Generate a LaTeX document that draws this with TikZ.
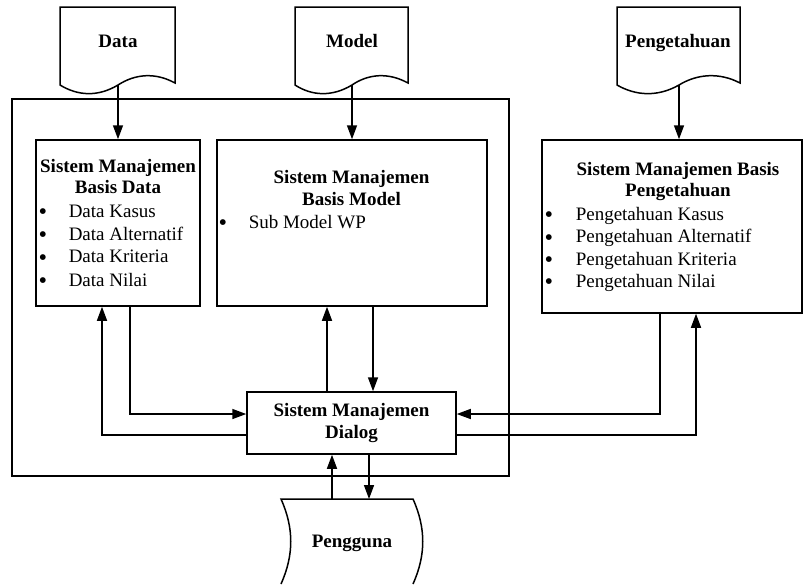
\documentclass[tikz,border=0pt]{standalone}
\usepackage{fontspec}
\setmainfont{Liberation Serif}
\newfontfamily\bulletfont{DejaVu Sans}
\usetikzlibrary{arrows.meta,calc}
\begin{document}
\begin{tikzpicture}[x=1pt,y=-1pt,
  line width=1.5pt,
  box/.style={draw, rectangle, inner sep=0pt, fill=none},
  txt/.style={inner sep=0pt, anchor=base, font=\fontsize{19}{22}\selectfont},
  ttl/.style={txt, font=\fontsize{19}{22}\selectfont\bfseries},
  itm/.style={txt, anchor=base west},
  bul/.style={inner sep=0pt, anchor=center, font=\bulletfont\fontsize{7.5}{8}\selectfont},
  arr/.style={-{Triangle[length=14pt,width=10pt]}},
]
\useasboundingbox (0,0) rectangle (803,584);

% outer frame
\node[box, minimum width=497pt, minimum height=377pt] (outer) at (260.5,287.5) {};

% boxes
\node[box, minimum width=164pt, minimum height=166pt] (b1) at (118,223) {};
\node[box, minimum width=270pt, minimum height=166pt] (b2) at (352,223) {};
\node[box, minimum width=260pt, minimum height=173pt] (b3) at (672,226.5) {};
\node[box, minimum width=209pt, minimum height=62pt] (dlg) at (351.5,423) {};

% document shapes
\draw[shift={(118,0)}] (-58,85) -- (-58,7) -- (57,7) -- (57,83)
  .. controls (37,72) and (17,74) .. (0,85)
  .. controls (-20,97) and (-40,96) .. (-58,85) -- cycle;
\draw[shift={(352,0)}] (-57,85) -- (-57,7) -- (56,7) -- (56,83)
  .. controls (36,72) and (16,74) .. (0,85)
  .. controls (-20,97) and (-40,96) .. (-57,85) -- cycle;
\draw[shift={(679,0)}] (-62,85) -- (-62,7) -- (61,7) -- (61,83)
  .. controls (40,72) and (18,74) .. (0,85)
  .. controls (-21,97) and (-43,96) .. (-62,85) -- cycle;
\coordinate (dataout) at (118,85);
\coordinate (modelout) at (352,85);
\coordinate (pengout) at (679,85);

\node[ttl] (tdata) at (118,47) {Data};
\node[ttl] (tmodel) at (352,47) {Model};
\node[ttl] (tpeng) at (678,47) {Pengetahuan};

% Pengguna shape
\draw (281,584) .. controls (294,555) and (294,528) .. (281,499)
  -- (413,499) .. controls (426,528) and (426,555) .. (413,584);
\coordinate (pgtop) at (347,499);
\node[ttl] (tpengguna) at (352,547) {Pengguna};

% box 1 text
\node[ttl] (b1t1) at (118,172) {Sistem Manajemen};
\node[ttl] (b1t2) at (118,193.3) {Basis Data};
\node[bul] (b1u1) at (43,211.7) {●};
\node[bul] (b1u2) at (43,234.4) {●};
\node[bul] (b1u3) at (43,257.1) {●};
\node[bul] (b1u4) at (43,280.4) {●};
\node[itm] (b1i1) at (68,217.3) {Data Kasus};
\node[itm] (b1i2) at (68,240) {Data Alternatif};
\node[itm] (b1i3) at (68,262.7) {Data Kriteria};
\node[itm] (b1i4) at (68,286) {Data Nilai};

% box 2 text
\node[ttl] (b2t1) at (351.5,183.3) {Sistem Manajemen};
\node[ttl] (b2t2) at (351.5,205) {Basis Model};
\node[bul] (b2u1) at (223,222.7) {●};
\node[itm] (b2i1) at (248,228.3) {Sub Model WP};

% box 3 text
\node[ttl] (b3t1) at (678,175) {Sistem Manajemen Basis};
\node[ttl] (b3t2) at (678,196.7) {Pengetahuan};
\node[bul] (b3u1) at (549,214.4) {●};
\node[bul] (b3u2) at (549,237.1) {●};
\node[bul] (b3u3) at (549,259.4) {●};
\node[bul] (b3u4) at (549,281.7) {●};
\node[itm] (b3i1) at (575,220) {Pengetahuan Kasus};
\node[itm] (b3i2) at (575,242.7) {Pengetahuan Alternatif};
\node[itm] (b3i3) at (575,265) {Pengetahuan Kriteria};
\node[itm] (b3i4) at (575,287.3) {Pengetahuan Nilai};

% dialog text
\node[ttl] (dt1) at (351.5,416.7) {Sistem Manajemen};
\node[ttl] (dt2) at (351.5,438.3) {Dialog};

% helper columns / rows
\coordinate (c1) at (130,0);
\coordinate (c2) at (102,0);
\coordinate (u1) at (327,0);
\coordinate (d1) at (373,0);
\coordinate (k1) at (660,0);
\coordinate (k2) at (696,0);
\coordinate (p1) at (332,0);
\coordinate (p2) at (369,0);
\coordinate (r1) at (0,414);
\coordinate (r2) at (0,435);

% connectors
\draw[arr] (dataout) -- (b1.north);
\draw[arr] (modelout) -- (b2.north);
\draw[arr] (pengout) -- (b3.north -| pengout);

\draw[arr] (b1.south -| c1) |- (dlg.west |- r1);
\draw[arr] (dlg.west |- r2) -| (b1.south -| c2);

\draw[arr] (dlg.north -| u1) -- (b2.south -| u1);
\draw[arr] (b2.south -| d1) -- (dlg.north -| d1);

\draw[arr] (b3.south -| k1) |- (dlg.east |- r1);
\draw[arr] (dlg.east |- r2) -| (b3.south -| k2);

\draw[arr] (pgtop -| p1) -- (dlg.south -| p1);
\draw[arr] (dlg.south -| p2) -- (pgtop -| p2);
\end{tikzpicture}
\end{document}
